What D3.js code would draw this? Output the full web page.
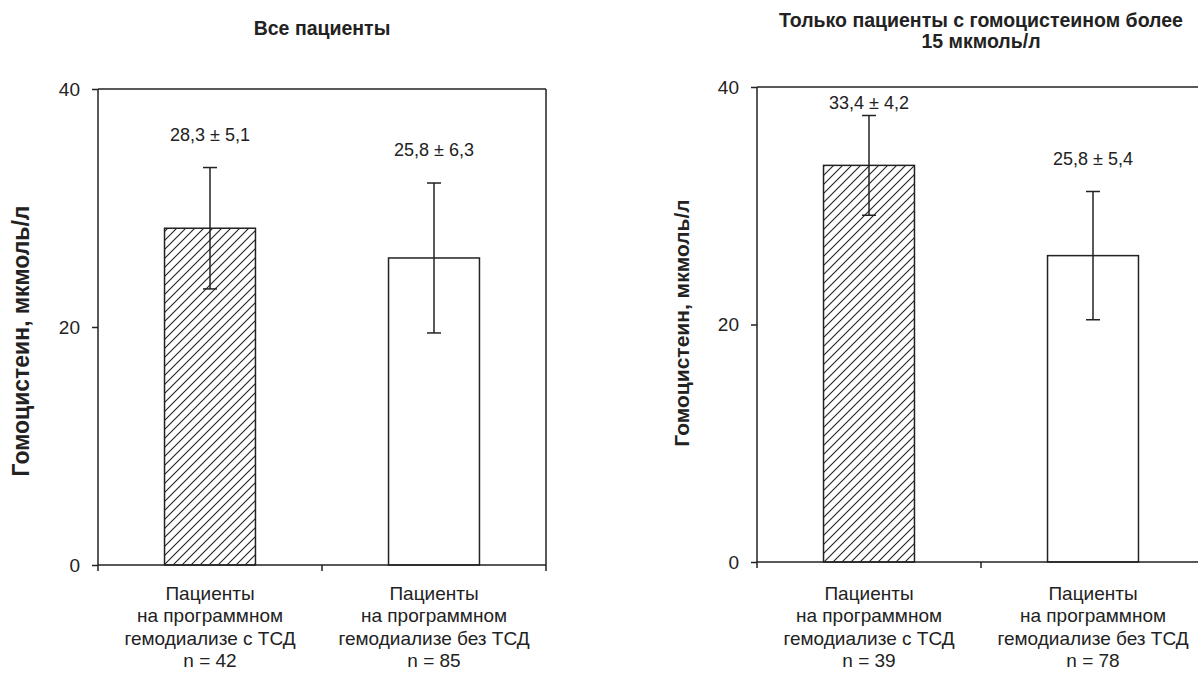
<!DOCTYPE html>
<html>
<head>
<meta charset="utf-8">
<script src="https://cdn.jsdelivr.net/npm/d3@7"></script>
<style>
  html, body { margin: 0; padding: 0; background: #fff; }
  svg { display: block; font-family: "Liberation Sans", Arial, sans-serif; }
</style>
</head>
<body>
<svg id="chart" width="1198" height="673"></svg>
<script>
// ---- data ----
const panelTitles = [
  ["Все пациенты"],
  ["Только пациенты с гомоцистеином более", "15 мкмоль/л"]
];
const yAxisTitle = "Гомоцистеин, мкмоль/л";
const categoriesA = [
  ["Пациенты", "на программном", "гемодиализе с ТСД", "n = 42"],
  ["Пациенты", "на программном", "гемодиализе без ТСД", "n = 85"]
];
const categoriesB = [
  ["Пациенты", "на программном", "гемодиализе с ТСД", "n = 39"],
  ["Пациенты", "на программном", "гемодиализе без ТСД", "n = 78"]
];
const meansA = [28.3, 25.8];
const sdsA = [5.1, 6.3];
const meansB = [33.4, 25.8];
const sdsB = [4.2, 5.4];
const yTicks = [0, 20, 40];
const yDomain = [0, 40];
const barFills = ["hatch", "white"];

// ---- layout ----
const svg = d3.select("#chart");
const ink = "#222";

const defs = svg.append("defs");
const hs = 9;
const pat = defs.append("pattern")
  .attr("id", "hatch")
  .attr("patternUnits", "userSpaceOnUse")
  .attr("width", hs).attr("height", hs);
pat.append("rect").attr("width", hs).attr("height", hs).attr("fill", "#fff");
pat.append("path")
  .attr("d", `M0,${hs} L${hs},0 M-2,2 L2,-2 M${hs-2},${hs+2} L${hs+2},${hs-2}`)
  .attr("stroke", ink).attr("stroke-width", 1.1);

const panels = [
  { titles: panelTitles[0], cats: categoriesA, means: meansA, sds: sdsA,
    x0: 98, x1: 546, yTop: 89, yBot: 565, titleY: 35, titleX: 322,
    yLabX: 29, yLabY: 341, yLabSize: 23, catY: 600, rightBorder: true },
  { titles: panelTitles[1], cats: categoriesB, means: meansB, sds: sdsB,
    x0: 757, x1: 1205, yTop: 87, yBot: 562, titleY: 27, titleX: 981,
    yLabX: 689, yLabY: 323, yLabSize: 21, catY: 600, rightBorder: false }
];

panels.forEach(p => {
  const g = svg.append("g");
  const y = d3.scaleLinear().domain(yDomain).range([p.yBot, p.yTop]);
  const x = d3.scaleBand().domain(d3.range(p.means.length))
    .range([p.x0, p.x1]).paddingInner(0.594).paddingOuter(0.297);
  const step = x.step();

  // title
  const t = g.append("text")
    .attr("x", p.titleX).attr("y", p.titleY)
    .attr("text-anchor", "middle")
    .attr("font-weight", "bold").attr("font-size", 19.5).attr("fill", ink);
  p.titles.forEach((line, i) => {
    t.append("tspan").attr("x", p.titleX).attr("dy", i === 0 ? 0 : 21).text(line);
  });

  // y-axis title
  g.append("text")
    .attr("transform", `translate(${p.yLabX},${p.yLabY}) rotate(-90)`)
    .attr("text-anchor", "middle")
    .attr("font-weight", "bold").attr("font-size", p.yLabSize).attr("fill", ink)
    .text(yAxisTitle);

  // bars
  g.selectAll("rect.bar").data(p.means).join("rect")
    .attr("class", "bar")
    .attr("x", (d, i) => x(i))
    .attr("y", d => y(d))
    .attr("width", x.bandwidth())
    .attr("height", d => y(0) - y(d))
    .attr("fill", (d, i) => barFills[i] === "hatch" ? "url(#hatch)" : "#fff")
    .attr("stroke", ink).attr("stroke-width", 1.5);

  // error bars
  const cap = 7;
  p.means.forEach((m, i) => {
    const cx = x(i) + x.bandwidth() / 2;
    const hi = y(m + p.sds[i]), lo = y(m - p.sds[i]);
    g.append("line").attr("x1", cx).attr("x2", cx).attr("y1", hi).attr("y2", lo)
      .attr("stroke", ink).attr("stroke-width", 1.5);
    [hi, lo].forEach(yy => g.append("line")
      .attr("x1", cx - cap).attr("x2", cx + cap).attr("y1", yy).attr("y2", yy)
      .attr("stroke", ink).attr("stroke-width", 1.5));
    const fmt = v => d3.format(".1f")(v).replace(".", ",");
    const ly = Math.max(hi - 27, y(yDomain[1]) + 22);
    g.append("text").attr("x", cx).attr("y", ly)
      .attr("text-anchor", "middle").attr("font-size", 18).attr("fill", ink)
      .text(`${fmt(m)} ± ${fmt(p.sds[i])}`);
  });

  // frame (top + optional right)
  g.append("line").attr("x1", p.x0).attr("x2", p.x1).attr("y1", p.yTop).attr("y2", p.yTop)
    .attr("stroke", ink).attr("stroke-width", 1.5);
  if (p.rightBorder) {
    g.append("line").attr("x1", p.x1).attr("x2", p.x1).attr("y1", p.yTop).attr("y2", p.yBot)
      .attr("stroke", ink).attr("stroke-width", 1.5);
  }

  // y axis
  const yAxis = d3.axisLeft(y).tickValues(yTicks).tickSize(6).tickPadding(12)
    .tickFormat(d3.format("d"));
  const ya = g.append("g").attr("transform", `translate(${p.x0},0)`).call(yAxis);
  ya.select(".domain").attr("stroke", ink).attr("stroke-width", 1.5)
    .attr("d", `M0,${p.yTop}V${p.yBot}`);
  ya.selectAll(".tick line").attr("stroke", ink).attr("stroke-width", 1.5);
  ya.selectAll(".tick text").attr("font-size", 19).attr("fill", ink)
    .attr("font-family", "Liberation Sans, Arial, sans-serif");

  // x axis baseline with boundary ticks
  const bounds = d3.range(p.means.length + 1).map(i => p.x0 + i * step);
  g.append("line").attr("x1", p.x0).attr("x2", p.x1).attr("y1", p.yBot).attr("y2", p.yBot)
    .attr("stroke", ink).attr("stroke-width", 1.5);
  g.selectAll("line.xt").data(bounds).join("line").attr("class", "xt")
    .attr("x1", d => d).attr("x2", d => d)
    .attr("y1", p.yBot).attr("y2", p.yBot + 6)
    .attr("stroke", ink).attr("stroke-width", 1.5);

  // category labels
  p.cats.forEach((lines, i) => {
    const cx = x(i) + x.bandwidth() / 2;
    const tx = g.append("text").attr("x", cx).attr("y", p.catY)
      .attr("text-anchor", "middle").attr("font-size", 19).attr("fill", ink);
    lines.forEach((line, j) => {
      tx.append("tspan").attr("x", cx).attr("dy", j === 0 ? 0 : 22.3).text(line);
    });
  });
});
</script>
</body>
</html>
